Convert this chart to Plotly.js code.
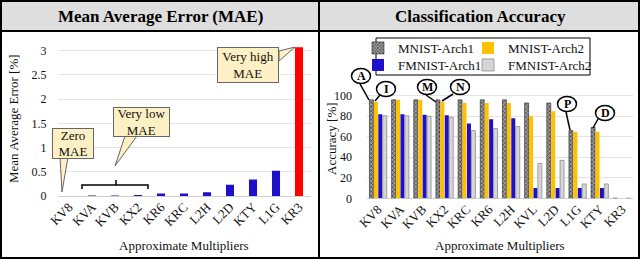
<!DOCTYPE html>
<html><head><meta charset="utf-8">
<script src="https://cdn.plot.ly/plotly-3.0.1.min.js"></script>
<style>html,body{margin:0;padding:0;background:#fff}#chart{width:640px;height:259px}</style>
</head><body><div id="chart"></div>
<script>
// ---- data ----
const maeCategories = ["KV8","KVA","KVB","KX2","KR6","KRC","L2H","L2D","KTY","L1G","KR3"];
const maeValues = [0, 0.01, 0.01, 0.02, 0.05, 0.05, 0.08, 0.23, 0.34, 0.52, 3.07];
const accCategories = ["KV8","KVA","KVB","KX2","KRC","KR6","L2H","KVL","L2D","L1G","KTY","KR3"];
const mnistArch1 = [96, 96, 96, 96, 96, 96, 96, 93, 93, 66, 69, 0];
const mnistArch2 = [94, 96, 96, 94, 93, 93, 93, 80, 85, 65, 65, 0];
const fmnistArch1 = [82, 82, 81.5, 81, 73, 77, 78, 10, 10, 10, 10, 0];
const fmnistArch2 = [80.5, 80.5, 80, 79, 66, 68, 70, 34, 37, 14, 14, 0];
const seriesNames = ["MNIST-Arch1","MNIST-Arch2","FMNIST-Arch1","FMNIST-Arch2"];

// ---- helpers ----
const W = 640, H = 259;
const X = p => p / W, Y = p => 1 - p / H;
const serif = '"Liberation Serif", "Times New Roman", serif';
const blue = '#1e0fc8', red = '#ff0000', yellow = '#ffc000';

const maeColors = maeValues.map((v, i) => i === maeValues.length - 1 ? red : blue);

const traces = [
  {type:'bar', x: maeCategories, y: maeValues, xaxis:'x', yaxis:'y', width:0.35,
   marker:{color: maeColors}, showlegend:false, hoverinfo:'x+y'},
  {type:'bar', name: seriesNames[0], x: accCategories, y: mnistArch1, xaxis:'x2', yaxis:'y2', legend:'legend',
   marker:{color:'#8a8a8a', line:{color:'#222', width:0.6},
           pattern:{shape:'x', fgcolor:'#2a2a2a', bgcolor:'#a0a0a0', size:3, solidity:0.35}}},
  {type:'bar', name: seriesNames[1], x: accCategories, y: mnistArch2, xaxis:'x2', yaxis:'y2', legend:'legend2',
   marker:{color: yellow}},
  {type:'bar', name: seriesNames[2], x: accCategories, y: fmnistArch1, xaxis:'x2', yaxis:'y2', legend:'legend3',
   marker:{color: blue}},
  {type:'bar', name: seriesNames[3], x: accCategories, y: fmnistArch2, xaxis:'x2', yaxis:'y2', legend:'legend4',
   marker:{color:'#d6d6d6', line:{color:'#8c8c8c', width:0.8}}}
];

const tickFont = {family: serif, size: 13, color: '#111'};
const yTickFont = {family: serif, size: 12, color: '#111'};

const shapes = [
  {type:'rect', xref:'paper', yref:'paper', x0:0, x1:1, y0:Y(31), y1:1, fillcolor:'#dedede', line:{width:0}, layer:'below'},
  {type:'line', xref:'paper', yref:'paper', x0:0, x1:1, y0:Y(31), y1:Y(31), line:{color:'#000', width:2}},
  {type:'line', xref:'paper', yref:'paper', x0:X(319), x1:X(319), y0:0, y1:1, line:{color:'#000', width:2}},
  {type:'rect', xref:'paper', yref:'paper', x0:X(1), x1:X(639), y0:Y(258), y1:Y(1), line:{color:'#000', width:2}},
  {type:'path', xref:'paper', yref:'paper', path:`M${X(60)},${Y(157)} L${X(62)},${Y(192)} L${X(68)},${Y(157)} Z`, fillcolor:'#fdf0c4', line:{color:'#666', width:1}},
  {type:'path', xref:'paper', yref:'paper', path:`M${X(125)},${Y(136)} L${X(115)},${Y(166)} L${X(137)},${Y(136)} Z`, fillcolor:'#fdf0c4', line:{color:'#666', width:1}},
  {type:'path', xref:'paper', yref:'paper', path:`M${X(279)},${Y(51)} L${X(295)},${Y(47)} L${X(279)},${Y(61)} Z`, fillcolor:'#fdf0c4', line:{color:'#666', width:1}},
  {type:'path', xref:'paper', yref:'paper', path:`M${X(82)},${Y(189)} L${X(82)},${Y(185)} L${X(148)},${Y(185)} L${X(148)},${Y(189)} M${X(116)},${Y(185)} L${X(116)},${Y(180)}`, line:{color:'#000', width:1.5}},
  {type:'rect', xref:'paper', yref:'paper', x0:X(376), x1:X(590), y0:Y(75), y1:Y(38), line:{color:'#000', width:1}},
];

const letters = [
  {t:'A', cx:361, cy:76, lx0:360, ly0:84, lx1:369, ly1:100},
  {t:'I', cx:386, cy:89, lx0:380, ly0:95, lx1:375, ly1:101},
  {t:'M', cx:427, cy:87, lx0:426, ly0:95, lx1:436, ly1:102},
  {t:'N', cx:460, cy:87, lx0:453, ly0:94, lx1:442, ly1:101},
  {t:'P', cx:567, cy:104, lx0:566, ly0:112, lx1:570, ly1:130},
  {t:'D', cx:605, cy:113, lx0:598, ly0:119, lx1:593, ly1:128}
];
const A = (x, y, text, font, extra) => Object.assign({xref:'paper', yref:'paper', x:X(x), y:Y(y), xanchor:'center', yanchor:'middle', text:text, showarrow:false, font:font}, extra || {});
const f13 = {family:serif, size:13, color:'#111'};
const callout = {bgcolor:'#fdf0c4', bordercolor:'#666', borderwidth:1};
const annotations = [
  A(160, 17, '<b>Mean Average Error (MAE)</b>', {family:serif, size:17, color:'#000'}),
  A(480, 17, '<b>Classification Accuracy</b>', {family:serif, size:17, color:'#000'}),
  A(184, 245, 'Approximate Multipliers', f13),
  A(500, 245, 'Approximate Multipliers', f13),
  A(14, 119, 'Mean Average Error [%]', f13, {textangle:-90}),
  A(331, 139, 'Accuracy [%]', f13, {textangle:-90}),
  A(73, 143, 'Zero<br>MAE', f13, Object.assign({width:38, height:27}, callout)),
  A(141.5, 122, 'Very low<br>MAE', f13, Object.assign({width:53, height:26}, callout)),
  A(248, 65, 'Very high<br>MAE', f13, Object.assign({width:58, height:32}, callout)),
];
letters.forEach(l => {
  shapes.push({type:'line', xref:'paper', yref:'paper', x0:X(l.lx0), y0:Y(l.ly0), x1:X(l.lx1), y1:Y(l.ly1), line:{color:'#000', width:1.5}});
  shapes.push({type:'circle', xref:'paper', yref:'paper', x0:X(l.cx-9.5), x1:X(l.cx+9.5), y0:Y(l.cy+7.5), y1:Y(l.cy-7.5), fillcolor:'#fff', line:{color:'#000', width:1.5}});
  annotations.push(A(l.cx, l.cy, '<b>'+l.t+'</b>', {family:serif, size:12, color:'#000'}));
});

const leg = (x, y) => ({x:X(x), y:Y(y), xanchor:'left', yanchor:'middle', bgcolor:'rgba(0,0,0,0)', borderwidth:0, font:{family:serif, size:13, color:'#111'}, tracegroupgap:0});

const layout = {
  width: W, height: H, margin:{l:0, r:0, t:0, b:0},
  paper_bgcolor:'#fff', plot_bgcolor:'rgba(0,0,0,0)',
  font:{family: serif, color:'#111'},
  barmode:'group', bargap:0.2, bargroupgap:0.1,
  xaxis:{domain:[X(57.5), X(310.5)], anchor:'y', tickangle:-45, tickfont:tickFont, showgrid:false, showline:false, ticks:'', fixedrange:true},
  yaxis:{domain:[Y(196), Y(41)], anchor:'x', range:[0,3.2], dtick:0.5, tickfont:yTickFont, gridcolor:'#e3e3e3', zerolinecolor:'#d0d0d0', ticklabelstandoff:10, fixedrange:true},
  xaxis2:{domain:[X(367), X(633)], anchor:'y2', tickangle:-45, tickfont:tickFont, showgrid:false, showline:false, ticks:'', fixedrange:true},
  yaxis2:{domain:[Y(198.3), Y(85.5)], anchor:'x2', range:[0,110], dtick:20, tickfont:yTickFont, gridcolor:'#e3e3e3', zerolinecolor:'#d0d0d0', ticklabelstandoff:14, fixedrange:true},
  legend: leg(358, 48),
  legend2: leg(468, 48),
  legend3: leg(358, 65),
  legend4: leg(468, 65),
  shapes: shapes, annotations: annotations
};

Plotly.newPlot('chart', traces, layout, {displayModeBar:false, staticPlot:true});
</script></body></html>
